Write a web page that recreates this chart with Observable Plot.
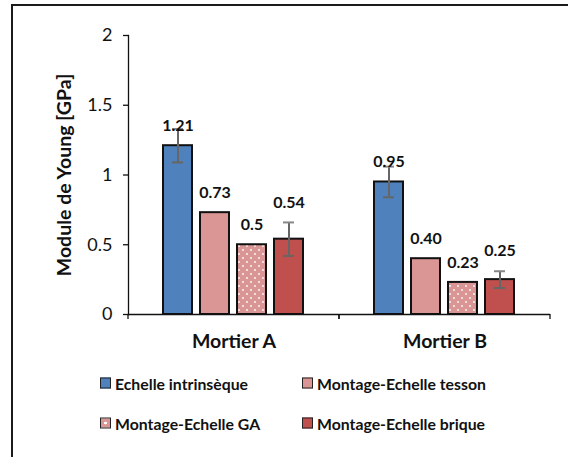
<!DOCTYPE html>
<html><head><meta charset="utf-8">
<script src="https://cdn.jsdelivr.net/npm/d3@7"></script>
<script src="https://cdn.jsdelivr.net/npm/@observablehq/plot@0.6"></script>
<style>
html,body{margin:0;padding:0;background:#fff;overflow:hidden;width:568px;height:457px}
#wrap{position:relative;width:568px;height:457px;font-family:Lato,"Open Sans",sans-serif;overflow:hidden}
#border{position:absolute;left:11px;top:4px;width:700px;height:600px;border-left:2px solid #1a1a1a;border-top:2px solid #1a1a1a;box-sizing:border-box}
#chart{position:absolute;left:0;top:0}
.item{position:absolute;display:flex;align-items:center;font-weight:bold;font-size:15.8px;color:#111;transform:translateY(-50%);white-space:nowrap}
.sw{width:9px;height:9px;border:1.5px solid #222;margin-right:4px}
</style></head><body>
<div id="wrap"><div id="border"></div><div id="chart"></div><div id="legend"></div></div>
<script>
const categories = ["Mortier A", "Mortier B"];
const series = ["Echelle intrinsèque", "Montage-Echelle tesson", "Montage-Echelle GA", "Montage-Echelle brique"];
const valuesA = [1.21, 0.73, 0.5, 0.54];
const valuesB = [0.95, 0.40, 0.23, 0.25];
const labelsA = ["1.21", "0.73", "0.5", "0.54"];
const labelsB = ["0.95", "0.40", "0.23", "0.25"];
const errorsA = [0.12, null, null, 0.12];
const errorsB = [0.11, null, null, 0.06];
const yTicks = [0, 0.5, 1, 1.5, 2];
const yTickLabels = ["0", "0.5", "1", "1.5", "2"];
const yTitle = "Module de Young [GPa]";
const colors = ["#4F81BD", "#DA9694", "url(#dots)", "#C0504D"];
const swatches = ["#4F81BD", "#DA9694", "radial-gradient(circle, #fff 0 1.3px, #DA9694 1.6px)", "#C0504D"];

const values = [valuesA, valuesB], labels = [labelsA, labelsB], errors = [errorsA, errorsB];
const rows = [];
categories.forEach((c, ci) => series.forEach((s, si) => rows.push({
  category: c, series: s, value: values[ci][si], label: labels[ci][si], err: errors[ci][si]
})));
const errRows = rows.filter(d => d.err != null);

const edgeTicks = (index, scales, vals, dims) => {
  const y0 = scales.y(0);
  const g = d3.create("svg:g").attr("stroke", "#111").attr("stroke-width", 1.3);
  for (const x of [dims.marginLeft, dims.width - dims.marginRight]) {
    g.append("line").attr("x1", x).attr("x2", x).attr("y1", y0).attr("y2", y0 + 5);
  }
  return g.node();
};

const chart = Plot.plot({
  width: 568, height: 360,
  marginLeft: 127, marginRight: 18, marginTop: 35, marginBottom: 46,
  style: {fontFamily: "Lato, sans-serif", color: "#111", background: "transparent"},
  fx: {domain: categories, padding: 0, label: null},
  x: {domain: series, axis: null, paddingInner: 0.21, paddingOuter: 0.89},
  y: {domain: [0, 2]},
  color: {domain: series, range: colors},
  marks: [
    Plot.barY(rows, {fx: "category", x: "series", y: "value", fill: "series", stroke: "#111", strokeWidth: 2}),
    Plot.ruleY([0], {stroke: "#111", strokeWidth: 1.5}),
    edgeTicks,
    Plot.frame({anchor: "left", facetAnchor: "left", stroke: "#111", strokeWidth: 1.3}),
    Plot.ruleX(errRows, {fx: "category", x: "series", y1: d => d.value - d.err, y2: d => d.value + d.err, stroke: "#666", strokeWidth: 2}),
    Plot.tickY(errRows, {fx: "category", x: "series", y: d => d.value - d.err, stroke: "#666", strokeWidth: 2, insetLeft: 9, insetRight: 9}),
    Plot.tickY(errRows, {fx: "category", x: "series", y: d => d.value + d.err, stroke: "#888", strokeWidth: 2, insetLeft: 9, insetRight: 9}),
    Plot.text(rows, {fx: "category", x: "series", y: d => d.series === series[3] ? d.value + d.err : d.value, text: "label", dy: -20, fontWeight: "bold", fontSize: 16, fill: "#111"}),
    Plot.axisY({ticks: yTicks, tickFormat: (d) => yTickLabels[yTicks.indexOf(d)], tickSize: 5, tickPadding: 11, fontSize: 18, label: null, stroke: "#111", strokeWidth: 1.3}),
    Plot.text([yTitle], {frameAnchor: "left", facetAnchor: "left", textAnchor: "middle", lineAnchor: "middle", rotate: -90, dx: -64, fontWeight: "bold", fontSize: 19.5, fill: "#111"}),
    Plot.axisFx({anchor: "bottom", tickSize: 0, tickPadding: 20, fontSize: 19.5, fontWeight: "bold", label: null})
  ]
});
chart.insertAdjacentHTML("afterbegin", '<defs><pattern id="dots" width="8" height="8" patternUnits="userSpaceOnUse"><rect width="8" height="8" fill="#DA9694"/><circle cx="2" cy="2" r="0.9" fill="#fff"/><circle cx="6" cy="6" r="0.9" fill="#fff"/></pattern></defs>');
document.getElementById("chart").appendChild(chart);

const legendPos = [[100, 383], [302, 383], [100, 423], [302, 423]];
const legend = document.getElementById("legend");
series.forEach((s, i) => {
  const it = document.createElement("div");
  it.className = "item";
  it.style.left = legendPos[i][0] + "px";
  it.style.top = legendPos[i][1] + "px";
  const sw = document.createElement("span");
  sw.className = "sw";
  sw.style.background = swatches[i];
  it.appendChild(sw);
  it.appendChild(document.createTextNode(s));
  legend.appendChild(it);
});
</script>
</body></html>
